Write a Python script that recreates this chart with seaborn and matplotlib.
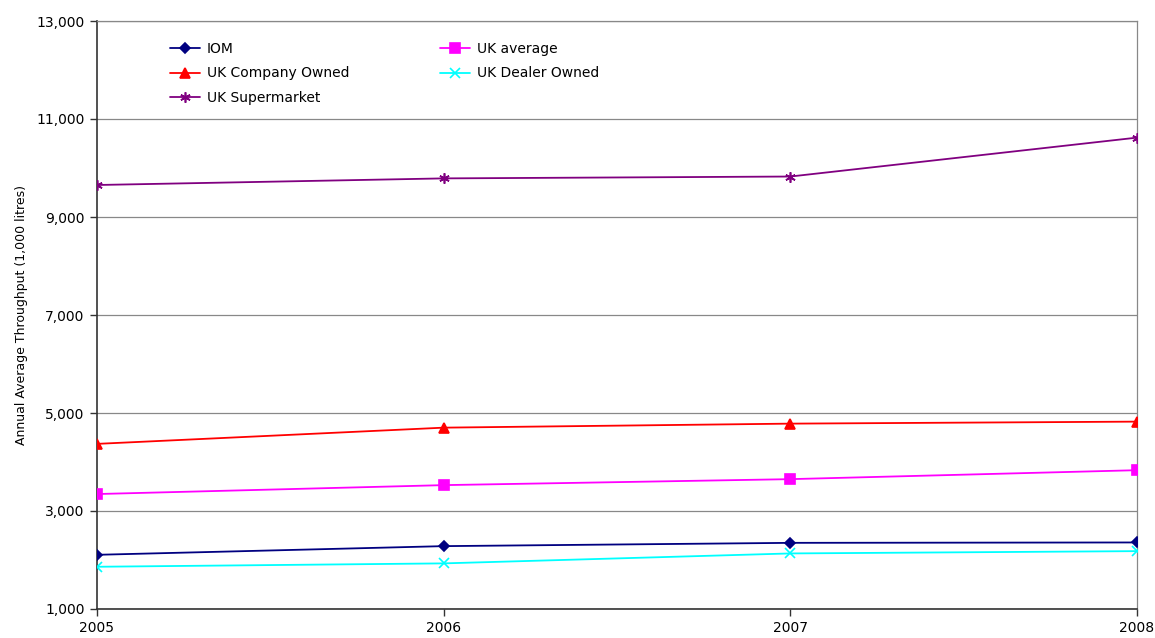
import matplotlib
matplotlib.use("Agg")
import matplotlib.pyplot as plt
import seaborn as sns
import pandas as pd

years = [2005, 2006, 2007, 2008]
iom = [2106, 2283, 2350, 2358]
uk_average = [3346, 3528, 3650, 3833]
uk_company = [4370, 4701, 4783, 4824]
uk_dealer = [1862, 1931, 2134, 2181]
uk_supermarket = [9653, 9788, 9826, 10620]

series = [
    ("IOM", iom, "#000080", "D", 5.5),
    ("UK Company Owned", uk_company, "#FF0000", "^", 7.5),
    ("UK Supermarket", uk_supermarket, "#800080", (6, 2, 0), 7.5),
    ("UK average", uk_average, "#FF00FF", "s", 6.5),
    ("UK Dealer Owned", uk_dealer, "#00FFFF", "x", 6.5),
]

sns.set_theme(style="white")
plt.rcParams['font.family'] = ['DejaVu Sans']
plt.rcParams['text.color'] = 'black'
plt.rcParams['axes.labelcolor'] = 'black'
plt.rcParams['xtick.color'] = 'black'
plt.rcParams['ytick.color'] = 'black'

fig = plt.figure(figsize=(11.55, 6.38), dpi=100)
ax = fig.add_axes([97/1155, 1 - 609/638, (1137-97)/1155, (609-21)/638])

for name, vals, color, marker, ms in series:
    df = pd.DataFrame({"year": years, "value": vals})
    sns.lineplot(data=df, x="year", y="value", ax=ax, color=color, marker=marker,
                 markersize=ms, markeredgecolor=color, markerfacecolor=color,
                 markeredgewidth=1.2, linewidth=1.3, label=name, zorder=3)

ax.set_xlim(2005, 2008)
ax.set_ylim(1000, 13000)
ax.set_xticks(years)
ax.set_xticklabels([str(y) for y in years])
ax.set_yticks(range(1000, 13001, 2000))
ax.set_yticklabels([f"{v:,}" for v in range(1000, 13001, 2000)])
ax.yaxis.grid(True, color="#888888", linewidth=0.9)
ax.set_axisbelow(True)
ax.set_xlabel("")
ax.set_ylabel("Annual Average Throughput (1,000 litres)", fontsize=9, labelpad=6)
ax.tick_params(axis="both", labelsize=10, length=5, width=1, color="#333333", labelcolor="black",
               direction="out", bottom=True, left=True, pad=4)
for s in ["left", "bottom"]:
    ax.spines[s].set_color("#333333")
    ax.spines[s].set_linewidth(1.2)
for s in ["top", "right"]:
    ax.spines[s].set_color("#888888")
    ax.spines[s].set_linewidth(0.9)

handles, labels = ax.get_legend_handles_labels()
ax.legend(handles, labels, ncol=2, frameon=False, fontsize=10,
          loc="upper left", bbox_to_anchor=(164/1155, 1 - 36/638),
          bbox_transform=fig.transFigure, handlelength=2.2, handletextpad=0.5,
          columnspacing=6.5, labelspacing=0.78, borderaxespad=0)

fig.savefig("out.png", dpi=100)
